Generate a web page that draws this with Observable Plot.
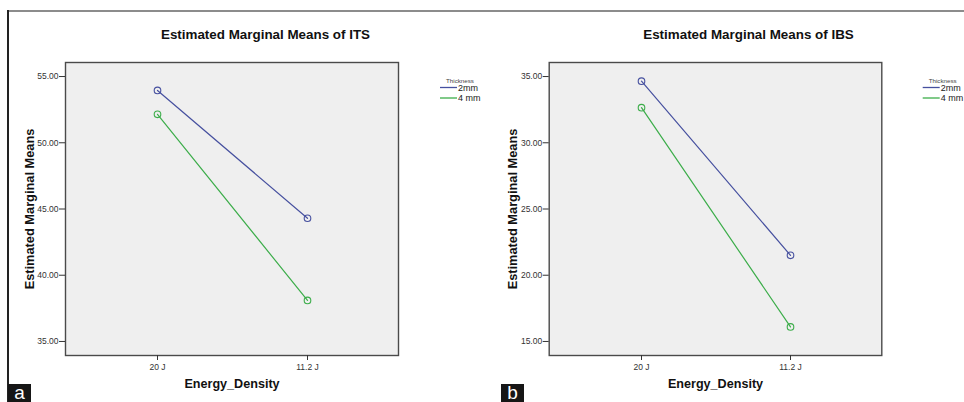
<!DOCTYPE html>
<html>
<head>
<meta charset="utf-8">
<script src="https://cdn.jsdelivr.net/npm/d3@7"></script>
<script src="https://cdn.jsdelivr.net/npm/@observablehq/plot@0.6"></script>
<style>
  html, body { margin: 0; padding: 0; background: #fff; }
  #wrap { position: relative; width: 964px; height: 402px; overflow: hidden; font-family: "Liberation Sans", Arial, sans-serif; }
  .panel { position: absolute; top: 0; }
  #overlay { position: absolute; left: 0; top: 0; }
  .border-top { position: absolute; left: 8px; top: 10px; width: 956px; height: 2px; background: #8c8c8c; }
  .border-left { position: absolute; left: 7px; top: 10px; width: 2px; height: 392px; background: #222; }
</style>
</head>
<body>
<div id="wrap">
  <div class="border-top"></div>
  <div class="border-left"></div>
</div>
<script>
// ---- data ----
const energyLevels = ["20 J", "11.2 J"];
const thicknessLevels = ["2mm", "4 mm"];
const itsMeans2mm = [53.95, 44.3];
const itsMeans4mm = [52.15, 38.1];
const ibsMeans2mm = [34.65, 21.5];
const ibsMeans4mm = [32.65, 16.1];
const itsTicks = [35, 40, 45, 50, 55];
const ibsTicks = [15, 20, 25, 30, 35];
const titles = ["Estimated Marginal Means of ITS", "Estimated Marginal Means of IBS"];
const panelTags = ["a", "b"];
const seriesColors = ["#46509f", "#3cad4a"];

function rowsFrom(m2, m4) {
  const rows = [];
  energyLevels.forEach((e, i) => rows.push({energy: e, thickness: thicknessLevels[0], mean: m2[i]}));
  energyLevels.forEach((e, i) => rows.push({energy: e, thickness: thicknessLevels[1], mean: m4[i]}));
  return rows;
}

function panel({title, rows, yDomain, yTicks, marginLeft, marginRight, titleDx}) {
  return Plot.plot({
    width: 482,
    height: 402,
    marginTop: 62,
    marginBottom: 47,
    marginLeft,
    marginRight,
    style: {fontFamily: "'Liberation Sans', Arial, sans-serif", background: "transparent", overflow: "visible"},
    x: {type: "point", domain: energyLevels, padding: 0.61, label: null},
    y: {domain: yDomain, label: null},
    color: {domain: thicknessLevels, range: seriesColors},
    marks: [
      Plot.frame({fill: "#efefef", stroke: "#4a4a4a", strokeWidth: 1.4}),
      Plot.axisY({ticks: yTicks, tickFormat: d => d.toFixed(2), tickSize: 6, tickPadding: 1, fontSize: 8.5, color: "#333", label: null}),
      Plot.axisX({tickSize: 5, tickPadding: 3, fontSize: 8.5, color: "#333", label: null}),
      Plot.line(rows, {x: "energy", y: "mean", z: "thickness", stroke: "thickness", strokeWidth: 1.2}),
      Plot.dot(rows, {x: "energy", y: "mean", stroke: "thickness", r: 3.3, strokeWidth: 1.1, fill: "none"}),
      Plot.text([title], {frameAnchor: "top", dx: titleDx, dy: -33, fontSize: 13.4, fontWeight: "bold", fill: "#111"}),
      Plot.text(["Estimated Marginal Means"], {frameAnchor: "left", textAnchor: "middle", dx: -36, rotate: -90, fontSize: 12.8, fontWeight: "bold", fill: "#111"}),
      Plot.text(["Energy_Density"], {frameAnchor: "bottom", dy: 32, fontSize: 12.6, fontWeight: "bold", fill: "#111"})
    ]
  });
}

const wrap = document.getElementById("wrap");
const configs = [
  {left: 0, title: titles[0], rows: rowsFrom(itsMeans2mm, itsMeans4mm), yDomain: [33.94, 56.06], yTicks: itsTicks, marginLeft: 65, marginRight: 84, titleDx: 33.5, legendX: 440, tagX: 8, tag: panelTags[0]},
  {left: 482, title: titles[1], rows: rowsFrom(ibsMeans2mm, ibsMeans4mm), yDomain: [13.94, 36.06], yTicks: ibsTicks, marginLeft: 66.7, marginRight: 82.7, titleDx: 33, legendX: 922.7, tagX: 501, tag: panelTags[1]}
];

configs.forEach(c => {
  const div = document.createElement("div");
  div.className = "panel";
  div.style.left = c.left + "px";
  div.appendChild(panel(c));
  wrap.appendChild(div);
});

// overlay: legends and panel tags
const svg = d3.select(wrap).append("svg")
  .attr("id", "overlay")
  .attr("width", 964).attr("height", 402)
  .style("font-family", "'Liberation Sans', Arial, sans-serif");

configs.forEach(c => {
  const g = svg.append("g").attr("transform", `translate(${c.legendX},0)`);
  g.append("text").attr("x", 20).attr("y", 82.6).attr("text-anchor", "middle")
    .attr("font-size", 6.2).attr("fill", "#444").text("Thickness");
  thicknessLevels.forEach((t, i) => {
    const y = 87.5 + i * 10.5;
    g.append("line").attr("x1", 0).attr("x2", 17).attr("y1", y).attr("y2", y)
      .attr("stroke", seriesColors[i]).attr("stroke-width", 1.3);
    g.append("text").attr("x", 18).attr("y", y + 3.2).attr("font-size", 9).attr("fill", "#222").text(t);
  });

  const tg = svg.append("g").attr("transform", `translate(${c.tagX},384)`);
  tg.append("rect").attr("width", 23).attr("height", 18).attr("fill", "#161616");
  tg.append("text").attr("x", 11.5).attr("y", 15).attr("text-anchor", "middle")
    .attr("font-size", 19).attr("fill", "#fff").text(c.tag);
});
</script>
</body>
</html>
